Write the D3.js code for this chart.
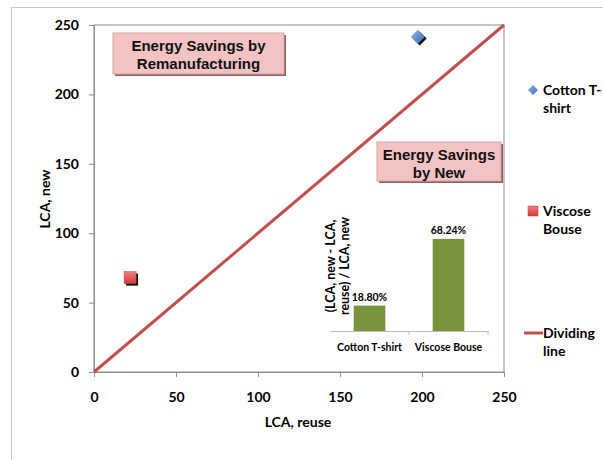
<!DOCTYPE html>
<html><head><meta charset="utf-8">
<script src="https://cdn.jsdelivr.net/npm/d3@7"></script>
<style>body{margin:0;background:#fff}svg{display:block}</style>
</head><body>
<script>
// ---- data ----
const series = ["Cotton T-shirt", "Viscose Bouse"];
const lcaReuse = [197.5, 22];
const lcaNew = [241.5, 68];
const dividing = [[0, 0], [250, 250]];
const ticks = [0, 50, 100, 150, 200, 250];
const insetCats = ["Cotton T-shirt", "Viscose Bouse"];
const insetVals = [18.80, 68.24];
const insetLabels = ["18.80%", "68.24%"];
const legendLabels = [["Cotton T-", "shirt"], ["Viscose", "Bouse"], ["Dividing", "line"]];

const W = 603, H = 460;
const svg = d3.select("body").append("svg").attr("width", W).attr("height", H);
const axisFont = "Lato, 'Open Sans', sans-serif";
const boxFont = "'Liberation Sans', Arial, sans-serif";

// outer frame
svg.append("rect").attr("x", 11.5).attr("y", 7.5).attr("width", 620).attr("height", 470)
  .attr("fill", "none").attr("stroke", "#c8c8c8");

const x = d3.scaleLinear().domain([0, 250]).range([94, 504]);
const y = d3.scaleLinear().domain([0, 250]).range([372, 25]);

// plot border
svg.append("rect").attr("x", x(0)).attr("y", y(250)).attr("width", x(250) - x(0)).attr("height", y(0) - y(250))
  .attr("fill", "none").attr("stroke", "#8c8c8c");

const xAxis = svg.append("g").attr("transform", `translate(0,${y(0)})`)
  .call(d3.axisBottom(x).tickValues(ticks).tickSize(5).tickPadding(12));
const yAxis = svg.append("g").attr("transform", `translate(${x(0)},0)`)
  .call(d3.axisLeft(y).tickValues(ticks).tickSize(5).tickPadding(10));
[xAxis, yAxis].forEach(g => {
  g.select(".domain").attr("stroke", "#8c8c8c");
  g.selectAll(".tick line").attr("stroke", "#8c8c8c");
  g.selectAll(".tick text").attr("font-family", axisFont).attr("font-weight", "bold")
    .attr("font-size", 14).attr("fill", "#000");
});
xAxis.selectAll(".tick text").attr("dy", "0.9em");

svg.append("text").attr("x", 298).attr("y", 427).attr("text-anchor", "middle")
  .attr("font-family", axisFont).attr("font-weight", "bold").attr("font-size", 14).text("LCA, reuse");
svg.append("text").attr("transform", "translate(50,199) rotate(-90)").attr("text-anchor", "middle")
  .attr("font-family", axisFont).attr("font-weight", "bold").attr("font-size", 14).text("LCA, new");

// dividing line
const red = "#c0504d";
svg.append("path").datum(dividing)
  .attr("d", d3.line().x(d => x(d[0])).y(d => y(d[1])))
  .attr("stroke", red).attr("stroke-width", 3).attr("fill", "none");

// markers
function diamond(g, cx, cy, s, fill) {
  const pts = [[cx, cy - s], [cx + s, cy], [cx, cy + s], [cx - s, cy]].map(p => p.join(",")).join(" ");
  g.append("polygon").attr("points", pts).attr("fill", fill);
}
const defs = svg.append("defs");
{
  const grad = defs.append("linearGradient").attr("id", "gd").attr("x1", 0).attr("y1", 0).attr("x2", 1).attr("y2", 1);
  grad.append("stop").attr("offset", 0).attr("stop-color", "#8fb0e0");
  grad.append("stop").attr("offset", 1).attr("stop-color", "#3f6fb5");
  const grad2 = defs.append("linearGradient").attr("id", "gs").attr("x1", 0).attr("y1", 0).attr("x2", 0).attr("y2", 1);
  grad2.append("stop").attr("offset", 0).attr("stop-color", "#f08080");
  grad2.append("stop").attr("offset", 1).attr("stop-color", "#d03a3a");
}
{
  const cx = x(lcaReuse[0]), cy = y(lcaNew[0]);
  diamond(svg, cx + 1.8, cy + 1.8, 7, "#111");
  diamond(svg, cx, cy, 7, "url(#gd)");
}
{
  const cx = x(lcaReuse[1]), cy = y(lcaNew[1]);
  svg.append("rect").attr("x", cx - 6 + 2).attr("y", cy - 6 + 2).attr("width", 12).attr("height", 12).attr("fill", "#111");
  svg.append("rect").attr("x", cx - 6).attr("y", cy - 6).attr("width", 12).attr("height", 12).attr("fill", "url(#gs)")
    .attr("stroke", "#c84040").attr("stroke-width", 0.5);
}

// text boxes
function box(x0, y0, w, h, lines, ly) {
  svg.append("rect").attr("x", x0 + 2).attr("y", y0 + 2).attr("width", w).attr("height", h).attr("fill", "#8a6060");
  svg.append("rect").attr("x", x0).attr("y", y0).attr("width", w).attr("height", h)
    .attr("fill", "#f3c3c3").attr("stroke", "#d9a3a3").attr("stroke-width", 1);
  lines.forEach((t, i) => svg.append("text").attr("x", x0 + w / 2).attr("y", ly[i]).attr("text-anchor", "middle")
    .attr("font-family", boxFont).attr("font-weight", "bold").attr("font-size", 15).attr("fill", "#111").text(t));
}
box(113, 33, 171, 41, ["Energy Savings by", "Remanufacturing"], [50.5, 68.5]);
box(377, 142, 124, 39, ["Energy Savings", "by New"], [160, 177.5]);

// inset bar chart
const bx = d3.scaleBand().domain(insetCats).range([330, 488]);
const by = d3.scaleLinear().domain([0, 100]).range([331, 196]);
const green = "#77933c";
svg.selectAll(".bar").data(insetVals).enter().append("rect")
  .attr("x", (d, i) => bx(insetCats[i]) + bx.bandwidth() * 0.3)
  .attr("width", bx.bandwidth() * 0.4)
  .attr("y", d => by(d)).attr("height", d => by(0) - by(d)).attr("fill", green);
svg.selectAll(".blab").data(insetVals).enter().append("text")
  .attr("x", (d, i) => bx(insetCats[i]) + bx.bandwidth() / 2).attr("y", d => by(d) - 5)
  .attr("text-anchor", "middle").attr("font-family", axisFont).attr("font-weight", "bold").attr("font-size", 10.5)
  .text((d, i) => insetLabels[i]);
const bAxis = svg.append("g").attr("transform", `translate(0,${by(0)})`)
  .call(d3.axisBottom(bx).tickSize(0).tickPadding(13).tickSizeOuter(0));
bAxis.select(".domain").attr("stroke", "#bbb");
bAxis.selectAll(".tick text").attr("font-family", axisFont).attr("font-weight", "bold").attr("font-size", 10.5).attr("fill", "#000");
svg.append("line").attr("x1", bx.range()[0] + bx.step()).attr("x2", bx.range()[0] + bx.step())
  .attr("y1", by(0)).attr("y2", by(0) + 4).attr("stroke", "#bbb");
svg.append("line").attr("x1", bx.range()[1]).attr("x2", bx.range()[1])
  .attr("y1", by(0)).attr("y2", by(0) + 4).attr("stroke", "#bbb");
const il = svg.append("text").attr("transform", "translate(335,266) rotate(-90)").attr("text-anchor", "middle")
  .attr("font-family", axisFont).attr("font-weight", "bold").attr("font-size", 12.5);
il.append("tspan").attr("x", 0).attr("dy", 0).text("(LCA, new - LCA,");
il.append("tspan").attr("x", 0).attr("dy", 13.5).text("reuse) / LCA, new");

// legend
const lf = 14;
const legY = [90, 211, 333];
diamond(svg, 533, legY[0], 5, "url(#gd)");
svg.append("rect").attr("x", 528).attr("y", legY[1] - 5).attr("width", 10).attr("height", 10).attr("fill", "url(#gs)")
  .attr("stroke", "#c84040").attr("stroke-width", 0.5);
svg.append("line").attr("x1", 524).attr("x2", 543).attr("y1", legY[2]).attr("y2", legY[2])
  .attr("stroke", red).attr("stroke-width", 3);
legendLabels.forEach((ls, i) => {
  ls.forEach((t, j) => svg.append("text").attr("x", 543).attr("y", legY[i] + 5 + j * 18)
    .attr("font-family", axisFont).attr("font-weight", "bold").attr("font-size", lf).text(t));
});
</script>
</body></html>
